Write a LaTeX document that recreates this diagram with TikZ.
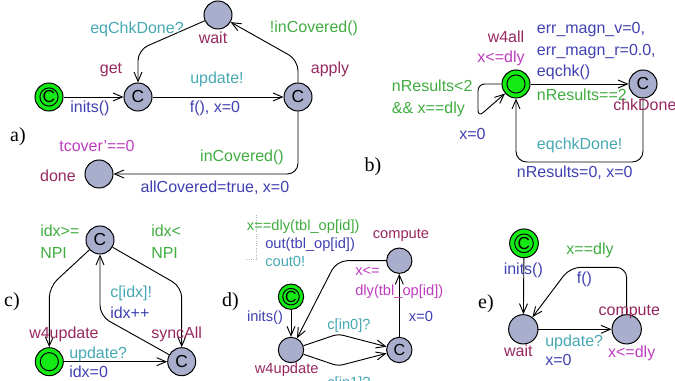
\documentclass[tikz,border=0pt]{standalone}
\usepackage{fontspec}
\setmainfont{Liberation Sans}
\newfontfamily\serifsub{Liberation Serif}
\usetikzlibrary{arrows.meta}
\definecolor{locfill}{RGB}{168,174,204}
\definecolor{initfill}{RGB}{20,235,20}
\definecolor{namecol}{RGB}{150,40,95}
\definecolor{synccol}{RGB}{70,168,178}
\definecolor{assigncol}{RGB}{64,64,178}
\definecolor{guardcol}{RGB}{64,172,64}
\definecolor{invcol}{RGB}{190,60,190}
\begin{document}
\begin{tikzpicture}[x=0.75pt,y=-0.75pt,
  lab/.style={inner sep=0pt, text height=8.6pt, text depth=2.4pt, font=\fontsize{12}{14}\selectfont},
  smalllab/.style={font=\fontsize{11}{13}\selectfont, text height=7.9pt, text depth=2.2pt},
  lname/.style={lab, text=namecol},
  lsync/.style={lab, text=synccol},
  lassign/.style={lab, text=assigncol},
  lguard/.style={lab, text=guardcol},
  linv/.style={lab, text=invcol},
  sub/.style={inner sep=0pt, font=\serifsub\fontsize{15}{15}\selectfont},
  loc/.style={circle, draw, fill=locfill, minimum size=21pt, inner sep=0pt, line width=0.75pt, font=\fontsize{13}{13}\selectfont},
  smallloc/.style={loc, minimum size=19pt, font=\fontsize{12}{12}\selectfont},
  init/.style={loc, fill=initfill},
  edge/.style={draw, line width=0.7pt, -{Straight Barb[length=7pt,width=6pt,line width=0.7pt]}},
  ring/.style={line width=0.75pt}
]
\useasboundingbox (0,0) rectangle (675,381);
% ---------------- a)
\node[init] (ai) at (49,97) {C};
\draw[ring] (ai.center) circle[radius=6.8pt];
\node[loc] (ag) at (138,97) {C};
\node[loc] (aa) at (298,97) {C};
\node[loc] (aw) at (218,15) {};
\node[loc] (ad) at (99,174) {};
\draw[edge] (ai) -- (ag);
\draw[edge] (ag) -- (aa);
\draw[edge, rounded corners=8pt] (aa.north) -- (298,60) -- (aw);
\draw[edge, rounded corners=8pt] (aw) -- (138,50) -- (ag.north);
\draw[edge, rounded corners=8pt] (aa.south) -- (298,174) -- (ad);
\node[lsync] (a1) at (137,29) {eqChkDone?};
\node[lname] (a2) at (213,39) {wait};
\node[lguard] (a3) at (314,28) {!inCovered()};
\node[lname] (a4) at (111,69) {get};
\node[lname] (a5) at (330,69) {apply};
\node[lsync] (a6) at (217,79) {update!};
\node[lassign] (a7) at (90,108) {inits()};
\node[lassign] (a8) at (215,108) {f(), x=0};
\node[sub] (a9) at (18,137) {a)};
\node[linv] (a10) at (97,147) {tcover'==0};
\node[lguard] (a11) at (242,157) {inCovered()};
\node[lname] (a12) at (58,177) {done};
\node[lassign] (a13) at (215,188) {allCovered=true, x=0};
% ---------------- b)
\node[init] (bw) at (516,84) {};
\draw[ring] (bw.center) circle[radius=6.8pt];
\node[loc] (bc) at (643,84) {C};
\draw[edge] (bw) -- (bc);
\draw[edge, rounded corners=5pt] (bw.west) -- (478,84) -- (478,117) -- (bw);
\draw[edge, rounded corners=8pt] (bc.south) -- (643,162) -- (516,162) -- (bw.south);
\node[lname] (b1) at (506,38) {w4all};
\node[linv] (b2) at (501,58) {x<=dly};
\node[lassign, anchor=west] (b3) at (536.7,29) {err\_magn\_v=0,};
\node[lassign, anchor=west] (b4) at (536.7,51) {err\_magn\_r=0.0,};
\node[lassign, anchor=west] (b5) at (536.7,72) {eqchk()};
\node[lguard, anchor=west] (b6) at (536.7,96) {nResults==2};
\node[lname, anchor=west] (b7) at (613,106) {chkDone};
\node[lguard, anchor=west] (b8) at (391.7,87) {nResults<2};
\node[lguard, anchor=west] (b9) at (391.7,109) {\&\& x==dly};
\node[lassign, anchor=west] (b10) at (459,135) {x=0};
\node[lsync, anchor=west] (b11) at (536.7,145) {eqchkDone!};
\node[lassign, anchor=west] (b12) at (516.7,173) {nResults=0, x=0};
\node[sub] (b13) at (373,167) {b)};
% ---------------- c)
\node[loc] (ct) at (100,240) {C};
\node[init] (cw) at (49.3,361.7) {};
\draw[ring] (cw.center) circle[radius=6.8pt];
\node[loc] (cs) at (181.7,361.7) {C};
\draw[edge, rounded corners=8pt] (ct) -- (49.3,287) -- (cw.north);
\draw[edge, rounded corners=8pt] (ct) -- (181.7,287) -- (cs.north);
\draw[edge, rounded corners=8pt] (cs) -- (100,316) -- (ct.south);
\draw[edge] (cw) -- (cs);
\node[lguard, anchor=west] (c1) at (40,232.7) {idx>=};
\node[lguard, anchor=west] (c2) at (40,254) {NPI};
\node[lguard, anchor=west] (c3) at (151,232.7) {idx<};
\node[lguard, anchor=west] (c4) at (151,254) {NPI};
\node[sub] (c5) at (12,301.7) {c)};
\node[lsync, anchor=west] (c6) at (110,293) {c[idx]!};
\node[lassign, anchor=west] (c7) at (110,314) {idx++};
\node[lname, anchor=west] (c8) at (29,334) {w4update};
\node[lname, anchor=west] (c9) at (151,334) {syncAll};
\node[lsync, anchor=west] (c10) at (69,354) {update?};
\node[lassign, anchor=west] (c11) at (69,373) {idx=0};
% ---------------- d)
\node[smallloc, fill=initfill] (di) at (291,296.7) {C};
\draw[ring] (di.center) circle[radius=6.2pt];
\node[smallloc] (dw) at (291,350) {};
\node[smallloc] (dc) at (399.3,350) {C};
\node[smallloc] (dp) at (399.3,260.7) {};
\draw[edge] (di) -- (dw);
\draw[edge, rounded corners=4pt] (dw) -- (338,334) -- (dc);
\draw[edge, rounded corners=4pt] (dw) -- (338,366) -- (dc);
\draw[edge] (dc) -- (dp);
\draw[edge, rounded corners=8pt] (dp.west) -- (336.7,260.7) -- (dw);
\coordinate (dd1) at (256,215);
\coordinate (dd2) at (256,260);
\coordinate (dd3) at (245,260);
\draw[gray!60, densely dotted, line width=0.75pt] (dd1) -- (dd2) -- (dd3);
\node[lguard, smalllab, anchor=west] (d1) at (246.7,226.7) {x==dly(tbl\_op[id])};
\node[lassign, smalllab, anchor=west] (d2) at (265,245) {out(tbl\_op[id])};
\node[lsync, smalllab, anchor=west] (d3) at (265,262.7) {cout0!};
\node[lname, smalllab] (d4) at (401,235) {compute};
\node[linv, smalllab, anchor=west] (d5) at (355,271.7) {x<=};
\node[linv, smalllab, anchor=west] (d6) at (355,291.7) {dly(tbl\_op[id])};
\node[sub] (d7) at (230.5,301.7) {d)};
\node[lassign, smalllab] (d8) at (265,317.3) {inits()};
\node[lassign, smalllab] (d9) at (421,317.3) {x=0};
\node[lsync, smalllab] (d10) at (349,326) {c[in0]?};
\node[lname, smalllab] (d11) at (286.7,370) {w4update};
\node[lsync, smalllab] (d12) at (349,384) {c[in1]?};
% ---------------- e)
\node[init, minimum size=21.5pt] (ei) at (524,243.3) {C};
\draw[ring] (ei.center) circle[radius=7pt];
\node[loc, minimum size=22pt] (ew) at (523.3,329.3) {};
\node[loc, minimum size=22pt] (ec) at (626.7,329.3) {};
\draw[edge] (ei) -- (ew);
\draw[edge] (ew) -- (ec);
\draw[edge, rounded corners=8pt] (ec.north) -- (626.7,267.3) -- (570,267.3) -- (ew);
\node[lguard] (e1) at (590,250) {x==dly};
\node[lassign] (e2) at (523.3,270) {inits()};
\node[lassign] (e3) at (584.5,279.3) {f()};
\node[sub] (e4) at (486,303.3) {e)};
\node[lname] (e5) at (629.3,311.7) {compute};
\node[lsync, anchor=west] (e6) at (545,342.3) {update?};
\node[lname] (e7) at (518.3,352.3) {wait};
\node[linv] (e8) at (631.7,353.3) {x<=dly};
\node[lassign, anchor=west] (e9) at (545,361.7) {x=0};
\end{tikzpicture}
\end{document}
